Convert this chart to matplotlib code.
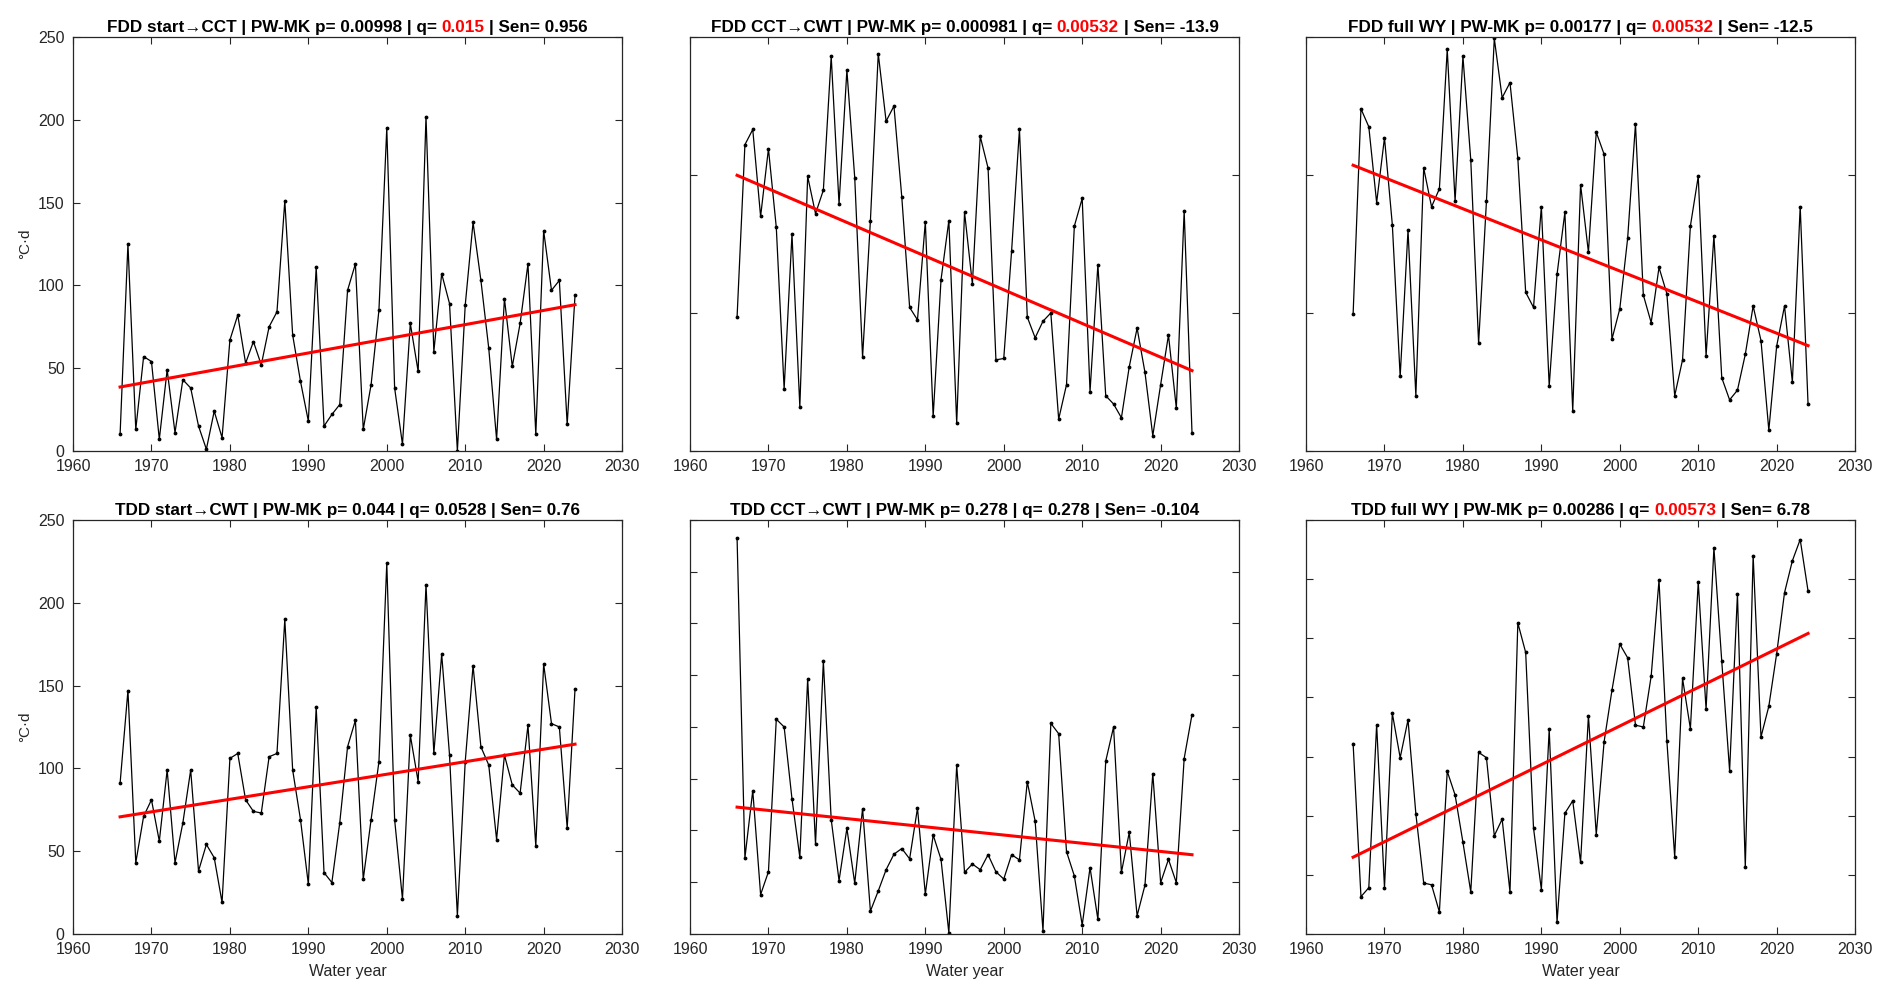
import numpy as np
import matplotlib
matplotlib.use('Agg')
import matplotlib.pyplot as plt

FONT = ['Liberation Sans', 'DejaVu Sans']
plt.rcParams['font.family'] = FONT

# water years
years = np.arange(1966, 2025)

# freezing degree days (°C·d)
fdd_start_cct = [10, 125, 13, 57, 54, 7, 49, 11, 43, 38, 15, 1, 24, 8, 67, 82, 53, 66, 52, 75,
                 84, 151, 70, 42, 18, 111, 15, 22, 28, 97, 113, 13, 40, 85, 195, 38, 4, 77, 48, 202,
                 60, 107, 89, 0, 88, 138, 103, 62, 7, 92, 51, 77, 113, 10, 133, 97, 103, 16, 94]
fdd_cct_cwt = [97, 222, 233, 170, 219, 162, 45, 157, 32, 199, 172, 189, 286, 179, 276, 198, 68, 167, 288, 239,
               250, 184, 104, 95, 166, 25, 124, 167, 20, 173, 121, 228, 205, 66, 67, 145, 233, 97, 82, 94,
               100, 23, 48, 163, 183, 43, 135, 40, 34, 24, 61, 89, 57, 11, 48, 84, 31, 174, 13]
fdd_full_wy = [99, 248, 235, 180, 227, 164, 54, 160, 40, 205, 177, 190, 291, 181, 286, 211, 78, 181, 299, 256,
               267, 212, 115, 104, 177, 47, 128, 173, 29, 193, 144, 231, 215, 81, 103, 154, 237, 113, 93, 133,
               114, 40, 66, 163, 199, 69, 156, 53, 37, 44, 70, 105, 80, 15, 76, 105, 50, 177, 34]

# thawing degree days (°C·d)
tdd_start_cwt = [91, 147, 43, 71, 81, 56, 99, 43, 67, 99, 38, 54, 46, 19, 106, 109, 81, 74, 73, 107,
                 109, 190, 99, 69, 30, 137, 37, 31, 67, 113, 129, 33, 69, 104, 224, 69, 21, 120, 92, 211,
                 109, 169, 108, 11, 104, 162, 113, 102, 57, 108, 90, 85, 126, 53, 163, 127, 125, 64, 148]
tdd_cct_cwt = [76.5, 14.7, 27.7, 7.6, 12.0, 41.5, 40.0, 26.1, 14.8, 49.3, 17.3, 52.7, 22.1, 10.3, 20.4, 9.8, 24.2, 4.4, 8.3, 12.4,
               15.4, 16.5, 14.5, 24.3, 7.7, 19.1, 14.4, 0.2, 32.6, 11.9, 13.5, 12.4, 15.3, 12.0, 10.6, 15.3, 14.3, 29.4, 21.8, 0.6,
               40.7, 38.7, 15.9, 11.2, 1.7, 12.8, 2.8, 33.4, 40.0, 11.9, 19.6, 3.5, 9.4, 31.0, 9.9, 14.4, 9.9, 33.9, 42.4]
tdd_full_wy = [322, 63, 78, 354, 78, 373, 298, 362, 203, 86, 83, 37, 275, 235, 155, 71, 307, 298, 166, 194,
               71, 526, 476, 179, 75, 346, 20, 204, 225, 121, 369, 168, 325, 412, 490, 467, 353, 350, 436, 598,
               327, 130, 432, 347, 595, 380, 653, 461, 276, 575, 113, 640, 333, 385, 474, 577, 631, 667, 580]

# fitted trend lines, value at first and last year
trend_fdd_start_cct = [38.6, 88.3]
trend_fdd_cct_cwt = [199.8, 58.2]
trend_fdd_full_wy = [207.1, 76.3]
trend_tdd_start_cwt = [70.7, 114.6]
trend_tdd_cct_cwt = [24.5, 15.3]
trend_tdd_full_wy = [129.7, 508.2]

# title pieces: (before q value, q value, after q value, q highlighted)
titles = [
    ('FDD start\u2192CCT | PW-MK p= 0.00998 | q=', '0.015', '| Sen= 0.956', True),
    ('FDD CCT\u2192CWT | PW-MK p= 0.000981 | q=', '0.00532', '| Sen= -13.9', True),
    ('FDD full WY | PW-MK p= 0.00177 | q=', '0.00532', '| Sen= -12.5', True),
    ('TDD start\u2192CWT | PW-MK p= 0.044 | q=', '0.0528', '| Sen= 0.76', False),
    ('TDD CCT\u2192CWT | PW-MK p= 0.278 | q=', '0.278', '| Sen= -0.104', False),
    ('TDD full WY | PW-MK p= 0.00286 | q=', '0.00573', '| Sen= 6.78', True),
]

series = [fdd_start_cct, fdd_cct_cwt, fdd_full_wy, tdd_start_cwt, tdd_cct_cwt, tdd_full_wy]
trends = [trend_fdd_start_cct, trend_fdd_cct_cwt, trend_fdd_full_wy,
          trend_tdd_start_cwt, trend_tdd_cct_cwt, trend_tdd_full_wy]
ylims = [(0, 250), (0, 300), (0, 300), (0, 250), (0, 80), (0, 700)]
ysteps = [50, 100, 100, 50, 10, 100]

GRAY = '#262626'
TFS = 12.3

fig = plt.figure(figsize=(18.92, 10.02), dpi=100)
lefts = [0.0386, 0.3647, 0.6903]
bottoms = [0.550, 0.068]
aw, ah = 0.2902, 0.413

axes = []
for i in range(6):
    r, c = divmod(i, 3)
    ax = fig.add_axes([lefts[c], bottoms[r], aw, ah])
    ax.plot(years, series[i], color='k', lw=0.9, marker='.', ms=3.5)
    ax.plot([years[0], years[-1]], trends[i], color='red', lw=2.2)
    ax.set_xlim(1960, 2030)
    ax.set_xticks(range(1960, 2031, 10))
    lo, hi = ylims[i]
    ax.set_ylim(lo, hi)
    ax.set_yticks(np.arange(lo, hi + 1, ysteps[i]))
    ax.tick_params(direction='in', top=True, right=True, length=5, width=0.8,
                   labelsize=11.5, colors=GRAY, pad=6)
    for s in ax.spines.values():
        s.set_color(GRAY)
        s.set_linewidth(0.9)
    if c == 0:
        ax.set_ylabel('°C·d', fontsize=11, color=GRAY, labelpad=4)
    else:
        ax.set_yticklabels([])
    if r == 1:
        ax.set_xlabel('Water year', fontsize=11.5, color=GRAY, labelpad=5)
    axes.append(ax)

# titles with the q value coloured separately
renderer = fig.canvas.get_renderer()
inv = fig.transFigure.inverted()


def width_px(s):
    t = fig.text(0, 0, s, fontsize=TFS, fontweight='bold')
    w = t.get_window_extent(renderer).width
    t.remove()
    return w


for ax, (pre, q, post, hot) in zip(axes, titles):
    bb = ax.get_window_extent(renderer)
    full = pre + ' ' + q + ' ' + post
    w_full = width_px(full)
    w_pq = width_px(pre + ' ' + q)
    x0 = (bb.x0 + bb.x1) / 2 - w_full / 2
    ybase = bb.y1 + 5
    fx0, fy = inv.transform((x0, ybase))
    fxq, _ = inv.transform((x0 + w_pq, ybase))
    fxe, _ = inv.transform((x0 + w_full, ybase))
    kw = dict(fontsize=TFS, fontweight='bold', va='baseline', color='k')
    fig.text(fx0, fy, pre, ha='left', **kw)
    kw['color'] = 'red' if hot else 'k'
    fig.text(fxq, fy, q, ha='right', **kw)
    kw['color'] = 'k'
    fig.text(fxe, fy, post, ha='right', **kw)

fig.savefig('out.png', dpi=100)
